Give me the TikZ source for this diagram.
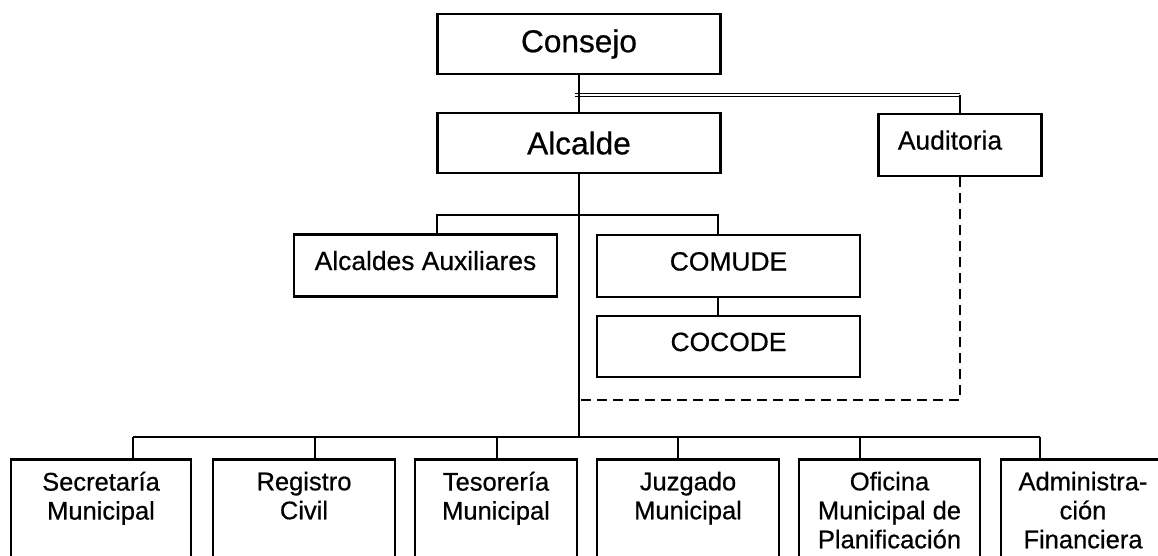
\documentclass[tikz,border=0pt]{standalone}
\usepackage{fontspec}
\setmainfont{Liberation Sans}[FakeBold=0.6]
\newcommand{\deptname}[1]{\parbox[t][100pt][t]{160pt}{\centering #1}}

\begin{document}
\begin{tikzpicture}[
  x=1pt, y=-1pt,
  box/.style={draw, line width=2.6pt, inner sep=0pt},
  head/.style={box, minimum width=283pt, minimum height=60pt,
    font=\fontsize{31.6}{36}\selectfont},
  unit/.style={box, minimum height=62pt, text height=19pt, text depth=10pt,
    font=\fontsize{26.4}{30}\selectfont},
  dept/.style={box, anchor=north, inner ysep=12.5pt,
    font=\fontsize{25.5}{29}\selectfont},
  link/.style={line width=2.4pt},
  twin/.style={double, double distance=2.4pt, line width=1pt},
  dotlink/.style={link, dash pattern=on 10pt off 6pt}
]

\useasboundingbox (0,0) rectangle (1158,555);
\clip (0,0) rectangle (1158,555);

% top of the chart
\node[head] (cons) at (579,44)  {Consejo};
\node[head] (alc)  at (579,143) {Alcalde};
\node[unit, minimum width=163pt] (aud) at (960,145) {Auditoria\hspace*{20pt}};

\node[unit, minimum width=263pt] (aux)    at (425.5,265.5) {Alcaldes Auxiliares};
\node[unit, minimum width=263pt] (comude) at (728.5,266)   {COMUDE};
\node[unit, minimum width=263pt, minimum height=61pt] (cocode) at (728.5,346.5) {COCODE};

% departments
\node[dept, minimum width=180pt] (sec) at (101,458)  {\deptname{Secretaría\\Municipal}};
\node[dept, minimum width=182pt] (reg) at (304,458)  {\deptname{Registro\\Civil}};
\node[dept, minimum width=162pt] (tes) at (496,458)  {\deptname{Tesorería\\Municipal}};
\node[dept, minimum width=182pt] (juz) at (688,458)  {\deptname{Juzgado\\Municipal}};
\node[dept, minimum width=181pt] (ofi) at (889.5,458) {\deptname{Oficina\\Municipal de\\Planificación}};
\node[dept, minimum width=164pt] (adm) at (1083,458) {\deptname{Administra-\\ción\\Financiera}};

\coordinate (tap)  at (575,95);
\coordinate (m1)   at (437,215);
\coordinate (m2)   at (718,215);
\coordinate (turn) at (579,400);
\coordinate (b0)   at (579,437);
\coordinate (b1)   at (133,437);
\coordinate (b2)   at (315,437);
\coordinate (b3)   at (497,437);
\coordinate (b4)   at (678,437);
\coordinate (b5)   at (860,437);
\coordinate (b6)   at (1040,437);

\draw[twin] (tap) -- (tap -| aud.north);
\draw[link] (tap -| aud.north) -- (aud);
\draw[link] (cons) -- (alc);
\draw[link] (alc) -- (b0);
\draw[dotlink] (aud) |- (turn);

\draw[link] (aux.north -| m1) -- (m1) -- (m2) -- (comude.north -| m2);
\draw[link] (comude.south -| m2) -- (cocode.north -| m2);

\draw[link] (b1) -- (b6);
\draw[link] (b1) -- (b1 |- sec.north);
\draw[link] (b2) -- (b2 |- reg.north);
\draw[link] (b3) -- (b3 |- tes.north);
\draw[link] (b4) -- (b4 |- juz.north);
\draw[link] (b5) -- (b5 |- ofi.north);
\draw[link] (b6) -- (b6 |- adm.north);

\end{tikzpicture}
\end{document}
